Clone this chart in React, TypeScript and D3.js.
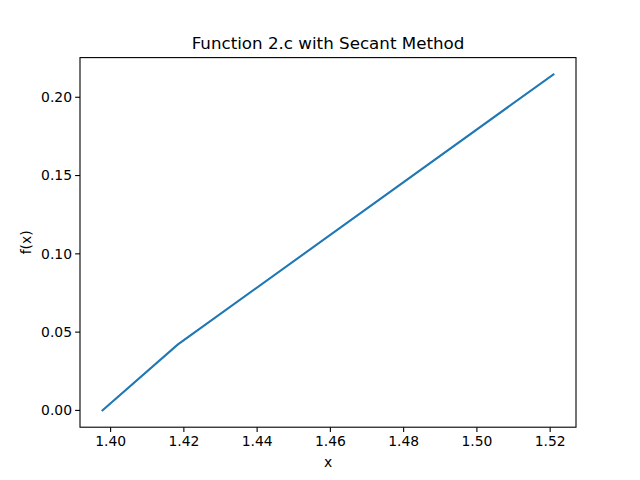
import * as d3 from 'd3';

// Secant method iterates (x, f(x))
const xValues = [1.5209, 1.4183, 1.3978];
const fValues = [0.2146, 0.042, 0.0];
const xTicks = [1.4, 1.42, 1.44, 1.46, 1.48, 1.5, 1.52];
const yTicks = [0, 0.05, 0.1, 0.15, 0.2];

const W = 640;
const H = 480;
const m = { left: 80, right: 576, top: 57.6, bottom: 427.2 };

const App = () => {
  const xmin = d3.min(xValues)!;
  const xmax = d3.max(xValues)!;
  const ymin = d3.min(fValues)!;
  const ymax = d3.max(fValues)!;
  const px = (xmax - xmin) * 0.05;
  const py = (ymax - ymin) * 0.05;
  const x = d3.scaleLinear().domain([xmin - px, xmax + px]).range([m.left, m.right]);
  const y = d3.scaleLinear().domain([ymin - py, ymax + py]).range([m.bottom, m.top]);
  const pts: [number, number][] = xValues.map((v, i) => [v, fValues[i]]);
  const line = d3.line<[number, number]>().x((d) => x(d[0])).y((d) => y(d[1]));
  const font = 'DejaVu Sans, sans-serif';

  return (
    <svg width={W} height={H} style={{ position: 'absolute', left: 0, top: 0 }} fontFamily={font}>
      <rect width={W} height={H} fill='white' />
      <path d={line(pts)!} fill='none' stroke='#1f77b4' strokeWidth={2.08} strokeLinecap='square' />
      <rect x={m.left} y={m.top} width={m.right - m.left} height={m.bottom - m.top} fill='none' stroke='black' strokeWidth={1.1} />
      {xTicks.map((t) => (
        <g key={t} transform={`translate(${x(t)},${m.bottom})`}>
          <line y2={4.9} stroke='black' strokeWidth={1.1} />
          <text y={19} textAnchor='middle' fontSize={13.9}>{t.toFixed(2)}</text>
        </g>
      ))}
      {yTicks.map((t) => (
        <g key={t} transform={`translate(${m.left},${y(t)})`}>
          <line x2={-4.9} stroke='black' strokeWidth={1.1} />
          <text x={-8} dy='0.35em' textAnchor='end' fontSize={13.9}>{t.toFixed(2)}</text>
        </g>
      ))}
      <text x={(m.left + m.right) / 2} y={467} textAnchor='middle' fontSize={13.9}>x</text>
      <text transform={`translate(31,${(m.top + m.bottom) / 2}) rotate(-90)`} textAnchor='middle' fontSize={13.9}>f(x)</text>
      <text x={(m.left + m.right) / 2} y={49} textAnchor='middle' fontSize={16.7}>Function 2.c with Secant Method</text>
    </svg>
  );
};

export default App;
